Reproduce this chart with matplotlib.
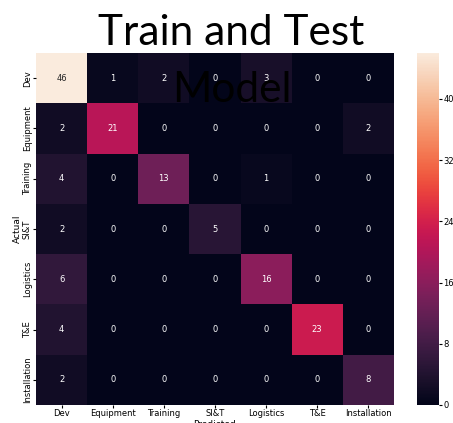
import numpy as np
import matplotlib
matplotlib.use("Agg")
import matplotlib.pyplot as plt
import seaborn as sns

labels = ["Dev", "Equipment", "Training", "SI&T", "Logistics", "T&E", "Installation"]

row_dev = [46, 1, 2, 0, 3, 0, 0]
row_equipment = [2, 21, 0, 0, 0, 0, 2]
row_training = [4, 0, 13, 0, 1, 0, 0]
row_sit = [2, 0, 0, 5, 0, 0, 0]
row_logistics = [6, 0, 0, 0, 16, 0, 0]
row_te = [4, 0, 0, 0, 0, 23, 0]
row_installation = [2, 0, 0, 0, 0, 0, 8]

cm = np.array([row_dev, row_equipment, row_training, row_sit,
               row_logistics, row_te, row_installation])

fig = plt.figure(figsize=(4.53, 4.23), dpi=100)
ax = fig.add_axes([0.0795, 0.0426, 0.790, 0.832])
cax = fig.add_axes([0.9205, 0.0426, 0.0486, 0.832])

sns.heatmap(
    cm,
    annot=True,
    fmt="d",
    cmap="rocket",
    vmin=0,
    ax=ax,
    cbar_ax=cax,
    xticklabels=labels,
    yticklabels=labels,
    annot_kws={"size": 6},
)

ax.set_xlabel("Predicted", fontsize=6.5, labelpad=1)
ax.set_ylabel("Actual", fontsize=6.5, labelpad=1)
ax.tick_params(axis="both", labelsize=6, length=2, pad=1)
ax.set_yticklabels(labels, rotation=90, va="center")
ax.set_xticklabels(labels, rotation=0)

cax.set_yticks([0, 8, 16, 24, 32, 40])
cax.tick_params(labelsize=6, length=2, pad=1)

# slide title drawn over the chart
fig.text(0.511, 1 - 45 / 423, "Train and Test", fontsize=30.5,
         family="Lato", ha="center", va="baseline", color="black")
fig.text(0.511, 1 - 102 / 423, "Model", fontsize=30.5,
         family="Lato", ha="center", va="baseline", color="black")

fig.savefig("out.png", dpi=100)
